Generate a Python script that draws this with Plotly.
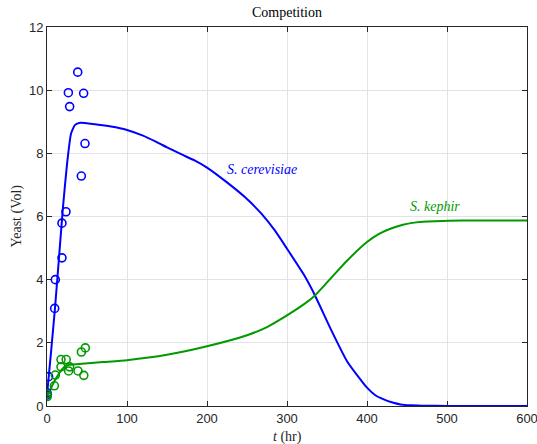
import plotly.graph_objects as go

# Model curves
t_sc = [0, 5, 10, 15, 20, 25, 30, 35, 41.5, 60, 80, 100, 120, 136, 150, 167, 185, 200, 225, 248, 268, 285, 300, 321, 335, 355, 375, 390, 400, 410, 421, 432, 442, 455, 470, 500, 600]
y_sc = [0.35, 1.7, 3.1, 4.7, 6.3, 7.65, 8.62, 8.9, 8.97, 8.92, 8.85, 8.74, 8.56, 8.37, 8.19, 7.98, 7.77, 7.55, 7.08, 6.6, 6.09, 5.55, 4.98, 4.16, 3.5, 2.42, 1.42, 0.9, 0.58, 0.35, 0.21, 0.11, 0.05, 0.02, 0.01, 0.0, 0.0]

t_sk = [0, 2, 10, 20, 25, 40, 70, 100, 150, 200, 250, 275, 300, 320, 335, 355, 375, 400, 415, 430, 445, 455, 470, 485, 520, 600]
y_sk = [0.3, 0.4, 0.82, 1.2, 1.29, 1.33, 1.39, 1.45, 1.62, 1.89, 2.24, 2.5, 2.87, 3.2, 3.5, 4.05, 4.6, 5.19, 5.45, 5.62, 5.74, 5.79, 5.83, 5.85, 5.87, 5.87]

# Measured data
t_sc_obs = [0, 0.5, 2, 9.6, 10.4, 18.7, 18.7, 23.7, 26.7, 28.3, 38.4, 42.9, 45.8, 47.5]
y_sc_obs = [0.42, 0.35, 0.93, 3.09, 4.0, 4.69, 5.79, 6.15, 9.92, 9.48, 10.57, 7.28, 9.9, 8.31]

t_sk_obs = [0, 0.3, 9.2, 10.4, 17.5, 17.5, 24, 27, 28.3, 38.7, 43, 46, 47.9]
y_sk_obs = [0.38, 0.3, 0.64, 0.98, 1.47, 1.24, 1.47, 1.11, 1.24, 1.11, 1.71, 0.97, 1.84]

BLUE = "#0000ff"
GREEN = "#009900"
AX = "#262626"

fig = go.Figure()
fig.add_trace(go.Scatter(x=t_sc, y=y_sc, mode="lines", line=dict(color=BLUE, width=2, shape="spline", smoothing=0.5),
                         showlegend=False))
fig.add_trace(go.Scatter(x=t_sk, y=y_sk, mode="lines", line=dict(color=GREEN, width=2, shape="spline", smoothing=0.5),
                         showlegend=False))
fig.add_trace(go.Scatter(x=t_sc_obs, y=y_sc_obs, mode="markers",
                         marker=dict(symbol="circle-open", size=8, color=BLUE, line=dict(width=1.6, color=BLUE)),
                         showlegend=False))
fig.add_trace(go.Scatter(x=t_sk_obs, y=y_sk_obs, mode="markers",
                         marker=dict(symbol="circle-open", size=8, color=GREEN, line=dict(width=1.6, color=GREEN)),
                         showlegend=False))

fig.add_annotation(x=222, y=7.5, text="<i>S. cerevisiae</i>", showarrow=False, xanchor="left", yanchor="middle",
                   font=dict(family="Liberation Serif", size=14, color=BLUE))
fig.add_annotation(x=451, y=6.33, text="<i>S. kephir</i>", showarrow=False, xanchor="left", yanchor="middle",
                   font=dict(family="Liberation Serif", size=14, color=GREEN))

# Axis titles as annotations for exact placement
fig.add_annotation(xref="paper", yref="paper", x=0, y=0.5, xshift=-31, text="Yeast (Vol)", textangle=-90,
                   showarrow=False, xanchor="center", yanchor="middle",
                   font=dict(family="Liberation Serif", size=14, color=AX))
fig.add_annotation(xref="paper", yref="paper", x=0.5, y=0, yshift=-31, text="<i>t</i> (hr)",
                   showarrow=False, xanchor="center", yanchor="middle",
                   font=dict(family="Liberation Serif", size=14, color=AX))

axis_common = dict(showline=True, linecolor=AX, linewidth=1, mirror="ticks", ticks="inside", ticklen=5,
                   tickcolor=AX, showgrid=True, gridcolor="#e3e3e3", gridwidth=1, zeroline=False,
                   automargin=False, ticklabeloverflow="allow",
                   tickfont=dict(family="Liberation Sans", size=13, color=AX))

fig.update_layout(
    width=537, height=444,
    margin=dict(l=47, r=10, t=27, b=38),
    paper_bgcolor="white", plot_bgcolor="white",
    title=dict(text="Competition", x=0.5, xref="paper", xanchor="center", y=1, yref="container", yanchor="top",
               pad=dict(t=7), font=dict(family="Liberation Serif", size=14, color="black")),
    xaxis=dict(range=[0, 600], tickvals=[0, 100, 200, 300, 400, 500, 600], **axis_common),
    yaxis=dict(range=[0, 12], tickvals=[0, 2, 4, 6, 8, 10, 12], **axis_common),
)

fig.write_html("out.html")
